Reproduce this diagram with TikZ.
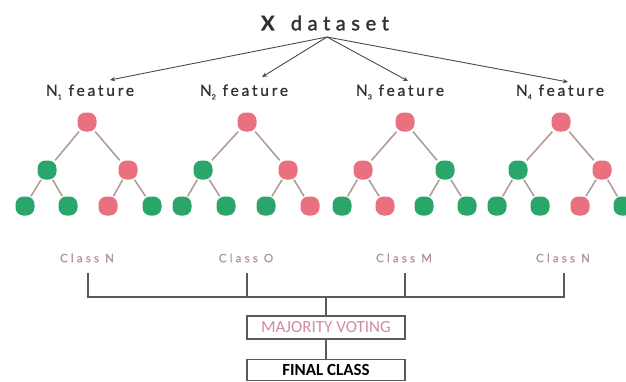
\documentclass[tikz,border=0pt]{standalone}
\usepackage{fontspec}
\setmainfont{Lato}
\newfontfamily\titlefont[LetterSpace=28,FakeBold=1.5]{Lato}
\newfontfamily\featfont[LetterSpace=18,FakeBold=1]{Lato}
\newfontfamily\classfont[LetterSpace=28,FakeBold=1]{Lato}
\newfontfamily\boxfont{Carlito}
\usetikzlibrary{arrows.meta}
\definecolor{nred}{RGB}{233,112,127}
\definecolor{ngreen}{RGB}{42,166,106}
\definecolor{edgecol}{RGB}{180,156,158}
\definecolor{arrcol}{RGB}{75,75,75}
\definecolor{txtcol}{RGB}{50,50,50}
\definecolor{classcol}{RGB}{178,146,156}
\definecolor{majcol}{RGB}{210,140,160}
\definecolor{boxcol}{RGB}{90,90,90}
\newcommand{\subn}[1]{\raisebox{-0.45ex}{\fontsize{7}{7}\selectfont #1}}
\tikzset{
  tn/.style={rectangle, rounded corners=8pt, minimum size=19pt, inner sep=0pt},
  rnode/.style={tn, fill=nred},
  gnode/.style={tn, fill=ngreen},
  edge/.style={draw=edgecol, line width=1.6pt},
  arr/.style={draw=arrcol, line width=0.9pt, -{Stealth[length=5pt,width=4.5pt]}},
  conn/.style={draw=boxcol, line width=1.2pt},
  feat/.style={font=\featfont\fontsize{15.5}{15.5}\selectfont, text=txtcol, inner sep=0pt},
  cls/.style={font=\classfont\fontsize{11.5}{12}\selectfont, text=classcol, inner sep=0pt},
  vbox/.style={draw=boxcol, line width=1.1pt, minimum width=158pt, inner sep=0pt}
}
\begin{document}
\begin{tikzpicture}[x=1pt,y=-1pt]
\useasboundingbox[fill=white] (0,0) rectangle (626,381);
% title
\node[font=\titlefont\fontsize{20}{20}\selectfont, text=txtcol, inner sep=0pt] (title) at (325,23) {\textbf{X} dataset};
\coordinate (src) at (327,37);
% feature labels
\node[feat] (f1) at (90,92) {N\subn{1} feature};
\node[feat] (f2) at (244,92) {N\subn{2} feature};
\node[feat] (f3) at (400,92) {N\subn{3} feature};
\node[feat] (f4) at (560,92) {N\subn{4} feature};
\coordinate (a1) at (110,80);
\coordinate (a2) at (262,77);
\coordinate (a3) at (408,81);
\coordinate (a4) at (568,82);
\foreach \i in {1,...,4} \draw[arr] (src) -- (a\i);
% tree 1
\node[rnode] (t1r) at (87,122) {};
\node[gnode] (t1a) at (47,170) {};
\node[rnode] (t1b) at (128,170) {};
\node[gnode] (t1a1) at (25,206) {};
\node[gnode] (t1a2) at (68,206) {};
\node[rnode] (t1b1) at (108,206) {};
\node[gnode] (t1b2) at (152,206) {};
% tree 2
\node[rnode] (t2r) at (247,122) {};
\node[gnode] (t2a) at (203,170) {};
\node[rnode] (t2b) at (288,170) {};
\node[gnode] (t2a1) at (182,206) {};
\node[gnode] (t2a2) at (226,206) {};
\node[gnode] (t2b1) at (266,206) {};
\node[rnode] (t2b2) at (310,206) {};
% tree 3
\node[rnode] (t3r) at (405,122) {};
\node[rnode] (t3a) at (363,170) {};
\node[gnode] (t3b) at (445,170) {};
\node[gnode] (t3a1) at (342,206) {};
\node[rnode] (t3a2) at (385,206) {};
\node[gnode] (t3b1) at (424,206) {};
\node[gnode] (t3b2) at (467,206) {};
% tree 4
\node[rnode] (t4r) at (561,122) {};
\node[gnode] (t4a) at (518,170) {};
\node[rnode] (t4b) at (602,170) {};
\node[gnode] (t4a1) at (497,206) {};
\node[gnode] (t4a2) at (540,206) {};
\node[rnode] (t4b1) at (580,206) {};
\node[gnode] (t4b2) at (623,206) {};
\foreach \t in {1,...,4} {
  \draw[edge] (t\t r) -- (t\t a) (t\t r) -- (t\t b)
              (t\t a) -- (t\t a1) (t\t a) -- (t\t a2)
              (t\t b) -- (t\t b1) (t\t b) -- (t\t b2);
}
% class labels
\node[cls] (c1) at (87,258) {Class N};
\node[cls] (c2) at (246,258) {Class O};
\node[cls] (c3) at (404,258) {Class M};
\node[cls] (c4) at (563,258) {Class N};
\coordinate (v1) at (88,273);
\coordinate (v2) at (247,273);
\coordinate (v3) at (405,273);
\coordinate (v4) at (564,273);
\coordinate (b1) at (88,297);
\coordinate (b4) at (564,297);
% boxes
\node[vbox, minimum height=23pt, font=\boxfont\fontsize{17}{17}\selectfont, text=majcol] (mv) at (326,327.5) {MAJORITY VOTING};
\node[vbox, minimum height=21pt, font=\boxfont\bfseries\fontsize{17}{17}\selectfont, text=black] (fc) at (326,369.8) {FINAL CLASS};
\draw[conn] (v1) -- (b1) -- (b4) -- (v4);
\draw[conn] (v2) -- (v2|-b1);
\draw[conn] (v3) -- (v3|-b1);
\draw[conn] (mv.north) -- (mv.north|-b1);
\draw[conn] (mv.south) -- (fc.north);
\end{tikzpicture}
\end{document}
